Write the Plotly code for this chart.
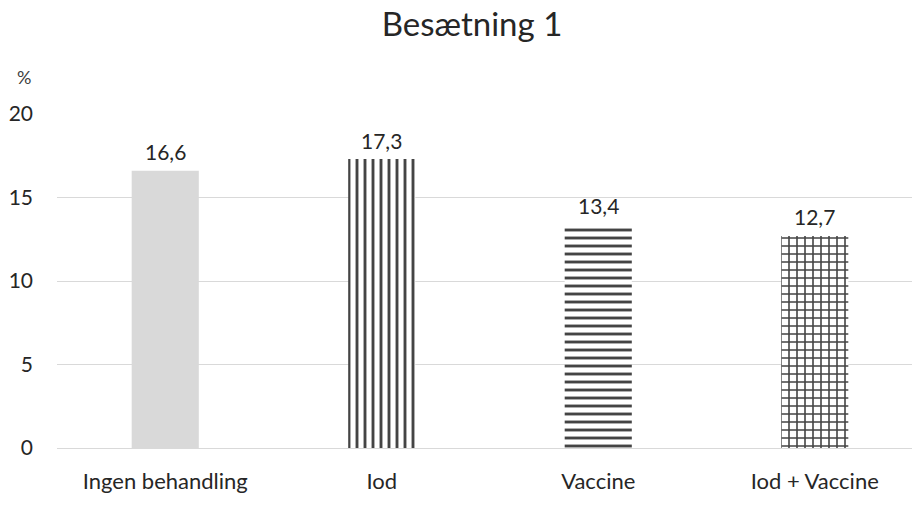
import plotly.graph_objects as go

categories = ["Ingen behandling", "Iod", "Vaccine", "Iod + Vaccine"]
values = [16.6, 17.3, 13.4, 12.7]
pattern_shapes = ["", "|", "-", "+"]
bg_colors = ["#d9d9d9", "white", "white", "white"]

W, H = 912, 507
L, R, T, B = 57, 0, 114, 59
FONT = "Lato"
TXT = "#262626"

fig = go.Figure()
fig.add_trace(go.Bar(
    x=categories,
    y=values,
    width=0.31,
    marker=dict(
        color=bg_colors,
        line=dict(width=0),
        pattern=dict(
            shape=pattern_shapes,
            fgcolor="black",
            bgcolor=bg_colors,
            fgopacity=1,
            size=8,
            solidity=0.36,
            fillmode="overlay",
        ),
    ),
    showlegend=False,
    hoverinfo="skip",
))

plot_w = W - L - R
cat_step = 216.5

annotations = [dict(
    text=f"{v:.1f}".replace(".", ","), x=c, y=v, xref="x", yref="y",
    yshift=19, xanchor="center", yanchor="middle", showarrow=False,
    font=dict(family=FONT, size=21, color=TXT),
) for c, v in zip(categories, values)]

annotations.append(dict(
    text="%", xref="paper", yref="paper",
    x=(24 - L) / plot_w, y=(448 - 77) / (448 - 114),
    xanchor="center", yanchor="middle", showarrow=False,
    font=dict(family=FONT, size=18, color="#404040"),
))

fig.update_layout(
    width=W, height=H,
    margin=dict(l=L, r=R, t=T, b=B, pad=0),
    plot_bgcolor="white", paper_bgcolor="white",
    font=dict(family=FONT, color=TXT, size=21),
    title=dict(text="Besætning 1", x=472 / W, xanchor="center",
               y=1 - 24 / H, yanchor="middle",
               font=dict(family=FONT, size=33, color=TXT)),
    xaxis=dict(
        range=[-0.5, -0.5 + plot_w / cat_step],
        showgrid=False, showline=False, zeroline=False,
        ticks="", ticklabelstandoff=18,
        tickfont=dict(family=FONT, size=22, color=TXT),
    ),
    yaxis=dict(
        range=[0, 20], tickvals=[0, 5, 10, 15, 20],
        showgrid=True, gridcolor="#d9d9d9", gridwidth=1.3,
        zeroline=True, zerolinecolor="#d9d9d9", zerolinewidth=1.3,
        showline=False, ticks="", ticklabelstandoff=23,
        tickfont=dict(family=FONT, size=21, color=TXT),
    ),
    annotations=annotations,
)

fig.write_html("out.html", config={"displayModeBar": False},
               post_script="document.body.style.margin='0';")
